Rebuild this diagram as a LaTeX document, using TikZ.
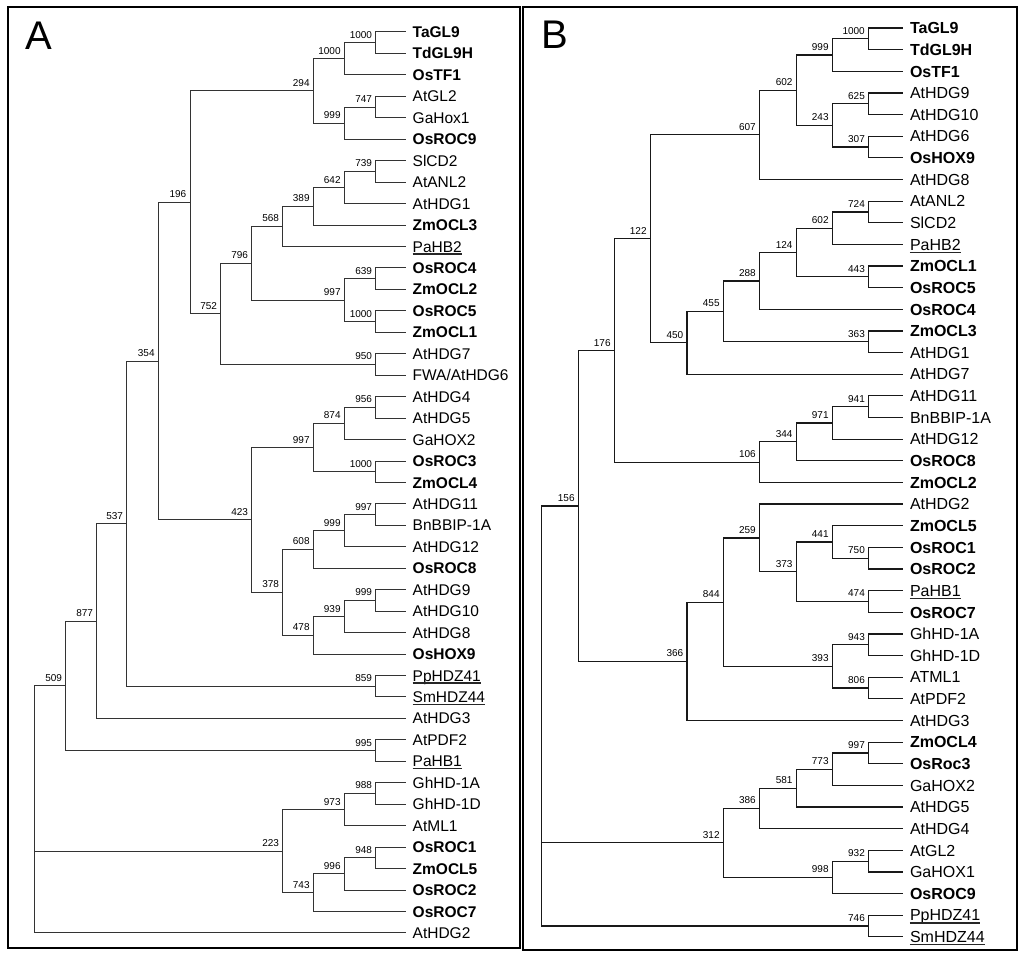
\documentclass[tikz,border=0pt]{standalone}
\usepackage{fontspec}
\setmainfont{Liberation Sans}
\usetikzlibrary{calc}
\newcommand\inode[4]{\coordinate (#1) at (#2,#3); \node[boot] (l#1) at ([xshift=-3.5pt,yshift=4.5pt]#1) {#4};}
\newcommand\kidsA[3]{\draw[treeA] (#1) |- (#2) (#1) |- (#3);}
\newcommand\kidsB[3]{\draw[treeB] (#1) |- (#2) (#1) |- (#3);}
\newcommand\ulineof[1]{\draw[uline] ([xshift=6.5pt,yshift=-2pt]#1.base west) -- ([xshift=-6.5pt,yshift=-2pt]#1.base east);}
\begin{document}
\begin{tikzpicture}[x=1pt,y=-1pt,
  treeA/.style={line width=1pt, draw=black!80},
  treeB/.style={line width=1.2pt, draw=black!90},
  frame/.style={line width=2pt, draw=black},
  boot/.style={anchor=base east, inner sep=0pt, font=\fontsize{10}{12}\selectfont},
  leafA/.style={anchor=west, inner xsep=6.5pt, inner ysep=0pt, text height=11.1pt, text depth=0pt, font=\fontsize{15.5}{17}\selectfont},
  leafAb/.style={leafA, font=\fontsize{15.5}{17}\selectfont\bfseries},
  leafB/.style={anchor=west, inner xsep=6.5pt, inner ysep=0pt, text height=11.46pt, text depth=0pt, font=\fontsize{16}{18}\selectfont},
  leafBb/.style={leafB, font=\fontsize{16}{18}\selectfont\bfseries},
  uline/.style={line width=1.2pt, draw=black!85},
  panel/.style={anchor=base west, inner sep=0pt, font=\fontsize{40}{44}\selectfont}]

\fill[white] (0,0) rectangle (1024,958);
\useasboundingbox (0,0) rectangle (1024,958);

\draw[frame] (8,7) rectangle (520,948);
\draw[frame] (522.5,7) rectangle (1016.5,950);
\node[panel] (labA) at (25,49.3) {A};
\node[panel] (labB) at (541.5,48.5) {B};

% ---------------- Panel A leaves ----------------
\node[leafAb] (aTaGL9) at (406,32) {TaGL9};
\node[leafAb] (aTdGL9H) at (406,53.45) {TdGL9H};
\node[leafAb] (aOsTF1) at (406,74.9) {OsTF1};
\node[leafA] (aAtGL2) at (406,96.35) {AtGL2};
\node[leafA] (aGaHox1) at (406,117.8) {GaHox1};
\node[leafAb] (aOsROC9) at (406,139.25) {OsROC9};
\node[leafA] (aSlCD2) at (406,160.7) {SlCD2};
\node[leafA] (aAtANL2) at (406,182.15) {AtANL2};
\node[leafA] (aAtHDG1) at (406,203.6) {AtHDG1};
\node[leafAb] (aZmOCL3) at (406,225.05) {ZmOCL3};
\node[leafA] (aPaHB2) at (406,246.5) {PaHB2};
\node[leafAb] (aOsROC4) at (406,267.95) {OsROC4};
\node[leafAb] (aZmOCL2) at (406,289.4) {ZmOCL2};
\node[leafAb] (aOsROC5) at (406,310.85) {OsROC5};
\node[leafAb] (aZmOCL1) at (406,332.3) {ZmOCL1};
\node[leafA] (aAtHDG7) at (406,353.75) {AtHDG7};
\node[leafA] (aFWA) at (406,375.2) {FWA/AtHDG6};
\node[leafA] (aAtHDG4) at (406,396.65) {AtHDG4};
\node[leafA] (aAtHDG5) at (406,418.1) {AtHDG5};
\node[leafA] (aGaHOX2) at (406,439.55) {GaHOX2};
\node[leafAb] (aOsROC3) at (406,461) {OsROC3};
\node[leafAb] (aZmOCL4) at (406,482.45) {ZmOCL4};
\node[leafA] (aAtHDG11) at (406,503.9) {AtHDG11};
\node[leafA] (aBnBBIP) at (406,525.35) {BnBBIP-1A};
\node[leafA] (aAtHDG12) at (406,546.8) {AtHDG12};
\node[leafAb] (aOsROC8) at (406,568.25) {OsROC8};
\node[leafA] (aAtHDG9) at (406,589.7) {AtHDG9};
\node[leafA] (aAtHDG10) at (406,611.15) {AtHDG10};
\node[leafA] (aAtHDG8) at (406,632.6) {AtHDG8};
\node[leafAb] (aOsHOX9) at (406,654.05) {OsHOX9};
\node[leafA] (aPpHDZ41) at (406,675.5) {PpHDZ41};
\node[leafA] (aSmHDZ44) at (406,696.95) {SmHDZ44};
\node[leafA] (aAtHDG3) at (406,718.4) {AtHDG3};
\node[leafA] (aAtPDF2) at (406,739.85) {AtPDF2};
\node[leafA] (aPaHB1) at (406,761.3) {PaHB1};
\node[leafA] (aGhHDA) at (406,782.75) {GhHD-1A};
\node[leafA] (aGhHDD) at (406,804.2) {GhHD-1D};
\node[leafA] (aAtML1) at (406,825.65) {AtML1};
\node[leafAb] (aOsROC1) at (406,847.1) {OsROC1};
\node[leafAb] (aZmOCL5) at (406,868.55) {ZmOCL5};
\node[leafAb] (aOsROC2) at (406,890) {OsROC2};
\node[leafAb] (aOsROC7) at (406,911.45) {OsROC7};
\node[leafA] (aAtHDG2) at (406,932.9) {AtHDG2};
\ulineof{aPaHB2}
\ulineof{aPpHDZ41}
\ulineof{aSmHDZ44}
\ulineof{aPaHB1}

% ---------------- Panel A internal nodes ----------------
\inode{a1000a}{375.7}{42.73}{1000}
\inode{a1000b}{344.3}{58.81}{1000}
\inode{a747}{375.7}{107.08}{747}
\inode{a999a}{344.3}{123.16}{999}
\inode{a294}{313.3}{90.99}{294}
\inode{a739}{375.7}{171.43}{739}
\inode{a642}{344.3}{187.51}{642}
\inode{a389}{313.3}{206.28}{389}
\inode{a568}{282.7}{226.39}{568}
\inode{a639}{375.7}{278.68}{639}
\inode{a1000c}{375.7}{321.58}{1000}
\inode{a997a}{344.3}{300.13}{997}
\inode{a796}{251.7}{263.26}{796}
\inode{a950}{375.7}{364.48}{950}
\inode{a752}{220.7}{313.87}{752}
\inode{a196}{190}{202.43}{196}
\inode{a956}{375.7}{407.38}{956}
\inode{a874}{344.3}{423.46}{874}
\inode{a1000d}{375.7}{471.73}{1000}
\inode{a997b}{313.3}{447.6}{997}
\inode{a997c}{375.7}{514.63}{997}
\inode{a999b}{344.3}{530.71}{999}
\inode{a608}{313.3}{549.48}{608}
\inode{a999c}{375.7}{600.43}{999}
\inode{a939}{344.3}{616.51}{939}
\inode{a478}{313.3}{635.28}{478}
\inode{a378}{282.7}{592.38}{378}
\inode{a423}{251.7}{519.99}{423}
\inode{a354}{158.3}{361.21}{354}
\inode{a859}{375.7}{686.23}{859}
\inode{a537}{126.7}{523.72}{537}
\inode{a877}{96.7}{621.06}{877}
\inode{a995}{375.7}{750.58}{995}
\inode{a509}{65.7}{685.82}{509}
\inode{a988}{375.7}{793.48}{988}
\inode{a973}{344.3}{809.57}{973}
\inode{a948}{375.7}{857.83}{948}
\inode{a996}{344.3}{873.91}{996}
\inode{a743}{313.3}{892.68}{743}
\inode{a223}{282.7}{851.13}{223}
\coordinate (aroot) at (34,809);

% ---------------- Panel A connectors ----------------
\kidsA{a1000a}{aTaGL9.west}{aTdGL9H.west}
\kidsA{a1000b}{a1000a}{aOsTF1.west}
\kidsA{a747}{aAtGL2.west}{aGaHox1.west}
\kidsA{a999a}{a747}{aOsROC9.west}
\kidsA{a294}{a1000b}{a999a}
\kidsA{a739}{aSlCD2.west}{aAtANL2.west}
\kidsA{a642}{a739}{aAtHDG1.west}
\kidsA{a389}{a642}{aZmOCL3.west}
\kidsA{a568}{a389}{aPaHB2.west}
\kidsA{a639}{aOsROC4.west}{aZmOCL2.west}
\kidsA{a1000c}{aOsROC5.west}{aZmOCL1.west}
\kidsA{a997a}{a639}{a1000c}
\kidsA{a796}{a568}{a997a}
\kidsA{a950}{aAtHDG7.west}{aFWA.west}
\kidsA{a752}{a796}{a950}
\kidsA{a196}{a294}{a752}
\kidsA{a956}{aAtHDG4.west}{aAtHDG5.west}
\kidsA{a874}{a956}{aGaHOX2.west}
\kidsA{a1000d}{aOsROC3.west}{aZmOCL4.west}
\kidsA{a997b}{a874}{a1000d}
\kidsA{a997c}{aAtHDG11.west}{aBnBBIP.west}
\kidsA{a999b}{a997c}{aAtHDG12.west}
\kidsA{a608}{a999b}{aOsROC8.west}
\kidsA{a999c}{aAtHDG9.west}{aAtHDG10.west}
\kidsA{a939}{a999c}{aAtHDG8.west}
\kidsA{a478}{a939}{aOsHOX9.west}
\kidsA{a378}{a608}{a478}
\kidsA{a423}{a997b}{a378}
\kidsA{a354}{a196}{a423}
\kidsA{a859}{aPpHDZ41.west}{aSmHDZ44.west}
\kidsA{a537}{a354}{a859}
\kidsA{a877}{a537}{aAtHDG3.west}
\kidsA{a995}{aAtPDF2.west}{aPaHB1.west}
\kidsA{a509}{a877}{a995}
\kidsA{a988}{aGhHDA.west}{aGhHDD.west}
\kidsA{a973}{a988}{aAtML1.west}
\kidsA{a948}{aOsROC1.west}{aZmOCL5.west}
\kidsA{a996}{a948}{aOsROC2.west}
\kidsA{a743}{a996}{aOsROC7.west}
\kidsA{a223}{a973}{a743}
\kidsA{aroot}{a509}{a223}
\draw[treeA] (aroot) |- (aAtHDG2.west);

% ---------------- Panel B leaves ----------------
\node[leafBb] (bTaGL9) at (903.3,28) {TaGL9};
\node[leafBb] (bTdGL9H) at (903.3,49.64) {TdGL9H};
\node[leafBb] (bOsTF1) at (903.3,71.28) {OsTF1};
\node[leafB] (bAtHDG9) at (903.3,92.92) {AtHDG9};
\node[leafB] (bAtHDG10) at (903.3,114.56) {AtHDG10};
\node[leafB] (bAtHDG6) at (903.3,136.2) {AtHDG6};
\node[leafBb] (bOsHOX9) at (903.3,157.84) {OsHOX9};
\node[leafB] (bAtHDG8) at (903.3,179.48) {AtHDG8};
\node[leafB] (bAtANL2) at (903.3,201.12) {AtANL2};
\node[leafB] (bSlCD2) at (903.3,222.76) {SlCD2};
\node[leafB] (bPaHB2) at (903.3,244.4) {PaHB2};
\node[leafBb] (bZmOCL1) at (903.3,266.04) {ZmOCL1};
\node[leafBb] (bOsROC5) at (903.3,287.68) {OsROC5};
\node[leafBb] (bOsROC4) at (903.3,309.32) {OsROC4};
\node[leafBb] (bZmOCL3) at (903.3,330.96) {ZmOCL3};
\node[leafB] (bAtHDG1) at (903.3,352.6) {AtHDG1};
\node[leafB] (bAtHDG7) at (903.3,374.24) {AtHDG7};
\node[leafB] (bAtHDG11) at (903.3,395.88) {AtHDG11};
\node[leafB] (bBnBBIP) at (903.3,417.52) {BnBBIP-1A};
\node[leafB] (bAtHDG12) at (903.3,439.16) {AtHDG12};
\node[leafBb] (bOsROC8) at (903.3,460.8) {OsROC8};
\node[leafBb] (bZmOCL2) at (903.3,482.44) {ZmOCL2};
\node[leafB] (bAtHDG2) at (903.3,504.08) {AtHDG2};
\node[leafBb] (bZmOCL5) at (903.3,525.72) {ZmOCL5};
\node[leafBb] (bOsROC1) at (903.3,547.36) {OsROC1};
\node[leafBb] (bOsROC2) at (903.3,569) {OsROC2};
\node[leafB] (bPaHB1) at (903.3,590.64) {PaHB1};
\node[leafBb] (bOsROC7) at (903.3,612.28) {OsROC7};
\node[leafB] (bGhHDA) at (903.3,633.92) {GhHD-1A};
\node[leafB] (bGhHDD) at (903.3,655.56) {GhHD-1D};
\node[leafB] (bATML1) at (903.3,677.2) {ATML1};
\node[leafB] (bAtPDF2) at (903.3,698.84) {AtPDF2};
\node[leafB] (bAtHDG3) at (903.3,720.48) {AtHDG3};
\node[leafBb] (bZmOCL4) at (903.3,742.12) {ZmOCL4};
\node[leafBb] (bOsRoc3) at (903.3,763.76) {OsRoc3};
\node[leafB] (bGaHOX2) at (903.3,785.4) {GaHOX2};
\node[leafB] (bAtHDG5) at (903.3,807.04) {AtHDG5};
\node[leafB] (bAtHDG4) at (903.3,828.68) {AtHDG4};
\node[leafB] (bAtGL2) at (903.3,850.32) {AtGL2};
\node[leafB] (bGaHOX1) at (903.3,871.96) {GaHOX1};
\node[leafBb] (bOsROC9) at (903.3,893.6) {OsROC9};
\node[leafB] (bPpHDZ41) at (903.3,915.24) {PpHDZ41};
\node[leafB] (bSmHDZ44) at (903.3,936.88) {SmHDZ44};
\ulineof{bPaHB2}
\ulineof{bPaHB1}
\ulineof{bPpHDZ41}
\ulineof{bSmHDZ44}

% ---------------- Panel B internal nodes ----------------
\inode{b1000}{868.5}{38.82}{1000}
\inode{b999}{832.3}{55.05}{999}
\inode{b625}{868.5}{103.74}{625}
\inode{b307}{868.5}{147.02}{307}
\inode{b243}{832.3}{125.38}{243}
\inode{b602a}{796.2}{90.22}{602}
\inode{b607}{759.5}{134.85}{607}
\inode{b724}{868.5}{211.94}{724}
\inode{b602b}{832.3}{228.17}{602}
\inode{b443}{868.5}{276.86}{443}
\inode{b124}{796.2}{252.52}{124}
\inode{b288}{759.5}{280.92}{288}
\inode{b363}{868.5}{341.78}{363}
\inode{b455}{723.3}{311.35}{455}
\inode{b450}{687}{342.8}{450}
\inode{b122}{650.3}{238.83}{122}
\inode{b941}{868.5}{406.7}{941}
\inode{b971}{832.3}{422.93}{971}
\inode{b344}{796.2}{441.87}{344}
\inode{b106}{759.5}{462.16}{106}
\inode{b176}{614.3}{350.5}{176}
\inode{b750}{868.5}{558.18}{750}
\inode{b441}{832.3}{541.95}{441}
\inode{b474}{868.5}{601.46}{474}
\inode{b373}{796.2}{571.71}{373}
\inode{b259}{759.5}{537.9}{259}
\inode{b943}{868.5}{644.74}{943}
\inode{b806}{868.5}{688.02}{806}
\inode{b393}{832.3}{666.38}{393}
\inode{b844}{723.3}{602.14}{844}
\inode{b366}{687}{661.31}{366}
\inode{b156}{578.3}{505.9}{156}
\inode{b997}{868.5}{752.94}{997}
\inode{b773}{832.3}{769.17}{773}
\inode{b581}{796.2}{788.1}{581}
\inode{b386}{759.5}{808.39}{386}
\inode{b932}{868.5}{861.14}{932}
\inode{b998}{832.3}{877.37}{998}
\inode{b312}{723.3}{842.88}{312}
\inode{b746}{868.5}{926.06}{746}
\coordinate (broot) at (541.7,716);

% ---------------- Panel B connectors ----------------
\kidsB{b1000}{bTaGL9.west}{bTdGL9H.west}
\kidsB{b999}{b1000}{bOsTF1.west}
\kidsB{b625}{bAtHDG9.west}{bAtHDG10.west}
\kidsB{b307}{bAtHDG6.west}{bOsHOX9.west}
\kidsB{b243}{b625}{b307}
\kidsB{b602a}{b999}{b243}
\kidsB{b607}{b602a}{bAtHDG8.west}
\kidsB{b724}{bAtANL2.west}{bSlCD2.west}
\kidsB{b602b}{b724}{bPaHB2.west}
\kidsB{b443}{bZmOCL1.west}{bOsROC5.west}
\kidsB{b124}{b602b}{b443}
\kidsB{b288}{b124}{bOsROC4.west}
\kidsB{b363}{bZmOCL3.west}{bAtHDG1.west}
\kidsB{b455}{b288}{b363}
\kidsB{b450}{b455}{bAtHDG7.west}
\kidsB{b122}{b607}{b450}
\kidsB{b941}{bAtHDG11.west}{bBnBBIP.west}
\kidsB{b971}{b941}{bAtHDG12.west}
\kidsB{b344}{b971}{bOsROC8.west}
\kidsB{b106}{b344}{bZmOCL2.west}
\kidsB{b176}{b122}{b106}
\kidsB{b750}{bOsROC1.west}{bOsROC2.west}
\kidsB{b441}{bZmOCL5.west}{b750}
\kidsB{b474}{bPaHB1.west}{bOsROC7.west}
\kidsB{b373}{b441}{b474}
\kidsB{b259}{bAtHDG2.west}{b373}
\kidsB{b943}{bGhHDA.west}{bGhHDD.west}
\kidsB{b806}{bATML1.west}{bAtPDF2.west}
\kidsB{b393}{b943}{b806}
\kidsB{b844}{b259}{b393}
\kidsB{b366}{b844}{bAtHDG3.west}
\kidsB{b156}{b176}{b366}
\kidsB{b997}{bZmOCL4.west}{bOsRoc3.west}
\kidsB{b773}{b997}{bGaHOX2.west}
\kidsB{b581}{b773}{bAtHDG5.west}
\kidsB{b386}{b581}{bAtHDG4.west}
\kidsB{b932}{bAtGL2.west}{bGaHOX1.west}
\kidsB{b998}{b932}{bOsROC9.west}
\kidsB{b312}{b386}{b998}
\kidsB{b746}{bPpHDZ41.west}{bSmHDZ44.west}
\kidsB{broot}{b156}{b312}
\draw[treeB] (broot) |- (b746);
\end{tikzpicture}
\end{document}
